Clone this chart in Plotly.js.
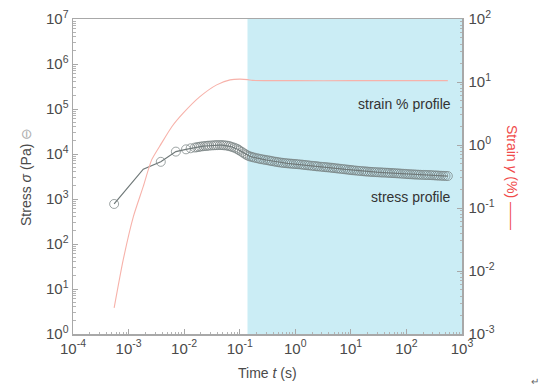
<!DOCTYPE html>
<html>
<head>
<meta charset="utf-8">
<script src="https://cdn.plot.ly/plotly-3.0.1.min.js"></script>
<style>html,body{margin:0;padding:0;background:#fff;}#chart{width:542px;height:388px;}</style>
</head>
<body>
<div id="chart"></div>
<script>
// Stress profile (time in s, stress in Pa)
const stressTime = [0.00055, 0.00184, 0.0038, 0.0071, 0.0108, 0.0131,
  0.0156, 0.017, 0.0185, 0.020, 0.022, 0.024, 0.026, 0.028, 0.031, 0.034, 0.037, 0.040,
  0.044, 0.048, 0.052, 0.057, 0.062, 0.067, 0.073, 0.080, 0.087, 0.094, 0.10, 0.11,
  0.12, 0.13, 0.14, 0.152, 0.165, 0.18, 0.20, 0.22, 0.24, 0.265, 0.29, 0.32, 0.35, 0.38,
  0.42, 0.46, 0.50, 0.55, 0.60, 0.66, 0.72, 0.79, 0.86, 0.94, 1.03, 1.13, 1.25, 1.37,
  1.5, 1.65, 1.8, 2.0, 2.2, 2.4, 2.6, 2.9, 3.2, 3.5, 3.8, 4.2, 4.6, 5.0, 5.5, 6.0, 6.6,
  7.3, 8, 8.8, 9.6, 10.5, 11.5, 12.7, 14, 15.5, 17, 18.5, 20, 22, 24, 26.5, 29, 32, 35,
  38, 42, 46, 50, 55, 60, 66, 72, 79, 87, 96, 105, 115, 126, 138, 150, 165, 180, 200,
  220, 240, 265, 290, 320, 350, 380, 420, 460, 505, 556];
const stressPa = [775, 4600, 6700, 11300, 12700, 13400,
  13900, 14150, 14400, 14650, 14900, 15050, 15200, 15350, 15500, 15600, 15700, 15750,
  15800, 15750, 15600, 15450, 15200, 14800, 14300, 13800, 13200, 12600, 11900, 11100,
  10300, 9700, 9200, 8850, 8600, 8350, 8100, 7900, 7700, 7550, 7400, 7250, 7100, 6950,
  6800, 6680, 6550, 6450, 6350, 6270, 6200, 6140, 6080, 6030, 5980, 5910, 5850, 5770,
  5700, 5620, 5550, 5470, 5400, 5340, 5280, 5210, 5150, 5100, 5050, 4990, 4930, 4860, 4800, 4740, 4680,
  4610, 4550, 4490, 4430, 4370, 4320, 4270, 4220, 4170, 4130, 4090, 4060, 4020, 3990, 3960, 3940, 3910, 3890,
  3870, 3850, 3825, 3800, 3775, 3750, 3725, 3700, 3670, 3640, 3610, 3580, 3555, 3530, 3510, 3490, 3470, 3450, 3435,
  3420, 3410, 3400, 3375, 3350, 3330, 3310, 3290, 3270, 3255, 3240];

// Strain profile (time in s, strain in %)
const strainTime = [0.00055, 0.0008, 0.00122, 0.00184, 0.0026, 0.0039, 0.006, 0.0096,
  0.019, 0.0385, 0.067, 0.1, 0.14, 0.17, 1, 10, 100, 556];
const strainPct = [0.0026, 0.015, 0.073, 0.22, 0.58, 1.06, 1.95, 3.2,
  5.8, 9.0, 10.8, 11.1, 10.9, 10.6, 10.5, 10.5, 10.5, 10.5];

// Tick labels
const xTickVals = [1e-4, 1e-3, 1e-2, 1e-1, 1, 10, 100, 1000];
const xTickText = ['10<sup>-4</sup>', '10<sup>-3</sup>', '10<sup>-2</sup>', '10<sup>-1</sup>', '10<sup>0</sup>', '10<sup>1</sup>', '10<sup>2</sup>', '10<sup>3</sup>'];
const yTickVals = [1, 10, 100, 1e3, 1e4, 1e5, 1e6, 1e7];
const yTickText = ['10<sup>0</sup>', '10<sup>1</sup>', '10<sup>2</sup>', '10<sup>3</sup>', '10<sup>4</sup>', '10<sup>5</sup>', '10<sup>6</sup>', '10<sup>7</sup>'];
const y2TickVals = [1e-3, 1e-2, 1e-1, 1, 10, 100];
const y2TickText = ['10<sup>-3</sup>', '10<sup>-2</sup>', '10<sup>-1</sup>', '10<sup>0</sup>', '10<sup>1</sup>', '10<sup>2</sup>'];

// Shaded steady region
const shadeStart = 0.138;
const shadeEnd = 1000;

function minorVals(lo, hi) {
  const v = [];
  for (let e = lo; e < hi; e++) for (let m = 2; m <= 9; m++) v.push(m * Math.pow(10, e));
  return v;
}

const FONT = 'Arial, "Liberation Sans", sans-serif';
const tickFont = {family: FONT, size: 15, color: '#4a4a4a'};
function axis(vals, text, range, lo, hi) {
  return {
    type: 'log', range: range, showgrid: false, zeroline: false,
    showline: true, linecolor: '#a8a8a8', linewidth: 1.5,
    ticks: 'inside', ticklen: 5, tickcolor: '#a8a8a8', tickwidth: 1,
    tickmode: 'array', tickvals: vals, ticktext: text, tickfont: tickFont,
    minor: {tickmode: 'array', tickvals: minorVals(lo, hi), ticks: 'inside', ticklen: 2.5, tickcolor: '#b4b4b4'}
  };
}

// the second stress sample is hidden under the strain curve (no visible ring)
const stressMarkerSize = stressTime.map((t, i) => (i === 1 ? 0 : 9));

const traces = [
  {
    x: strainTime, y: strainPct, yaxis: 'y2', type: 'scatter', mode: 'lines',
    line: {color: '#f7b2aa', width: 1.1, shape: 'spline', smoothing: 0.6},
    hoverinfo: 'skip'
  },
  {
    x: stressTime, y: stressPa, type: 'scatter', mode: 'lines+markers',
    line: {color: '#6f7878', width: 1.2},
    marker: {symbol: 'circle-open', size: stressMarkerSize, color: '#737d7d', line: {width: 1}},
    hoverinfo: 'skip'
  }
];

const xa = axis(xTickVals, xTickText, [-4, 3], -4, 3);
xa.mirror = true;
const ya = axis(yTickVals, yTickText, [0, 7], 0, 7);
const ya2 = axis(y2TickVals, y2TickText, [-3, 2], -3, 2);
ya2.overlaying = 'y';
ya2.side = 'right';
ya2.ticklabelstandoff = 2;

const layout = {
  width: 542, height: 388,
  margin: {l: 73, r: 80, t: 19, b: 54},
  paper_bgcolor: '#ffffff', plot_bgcolor: '#ffffff',
  showlegend: false,
  xaxis: xa, yaxis: ya, yaxis2: ya2,
  shapes: [{
    type: 'rect', xref: 'x', yref: 'paper', x0: shadeStart, x1: shadeEnd, y0: 0, y1: 1,
    fillcolor: '#cbedf5', line: {width: 0}, layer: 'below'
  }],
  annotations: [
    {xref: 'paper', yref: 'paper', x: 1, y: (388 - 104 - 54) / 315, xanchor: 'right', yanchor: 'middle',
     xshift: -9, text: 'strain % profile', showarrow: false,
     font: {family: FONT, size: 14, color: '#333'}},
    {xref: 'paper', yref: 'paper', x: 1, y: (388 - 197 - 54) / 315, xanchor: 'right', yanchor: 'middle',
     xshift: -9, text: 'stress profile', showarrow: false,
     font: {family: FONT, size: 14, color: '#333'}},
    {xref: 'paper', yref: 'paper', x: (267 - 73) / 389, y: 0, yshift: -39, xanchor: 'center', yanchor: 'middle',
     text: 'Time <i>t</i> (s)', showarrow: false,
     font: {family: FONT, size: 14, color: '#4a4a4a'}},
    {xref: 'paper', yref: 'paper', x: 0, xshift: -47, y: (388 - 177 - 54) / 315, xanchor: 'center', yanchor: 'middle',
     textangle: -90, text: 'Stress <i>σ</i> (Pa) <span style="color:#b0b0b0">⊖</span>', showarrow: false,
     font: {family: FONT, size: 14, color: '#4a4a4a'}},
    {xref: 'paper', yref: 'paper', x: 1, xshift: 50, y: (388 - 177 - 54) / 315, xanchor: 'center', yanchor: 'middle',
     textangle: 90, text: 'Strain <i>γ</i> (%) ——', showarrow: false,
     font: {family: FONT, size: 14, color: '#f04a4a'}},
    {xref: 'paper', yref: 'paper', x: 1, xshift: 73, y: 0, yshift: -47, xanchor: 'center', yanchor: 'middle',
     text: '↵', showarrow: false,
     font: {family: FONT, size: 10, color: '#666'}}
  ]
};

Plotly.newPlot('chart', traces, layout, {staticPlot: true, displayModeBar: false});
</script>
</body>
</html>
